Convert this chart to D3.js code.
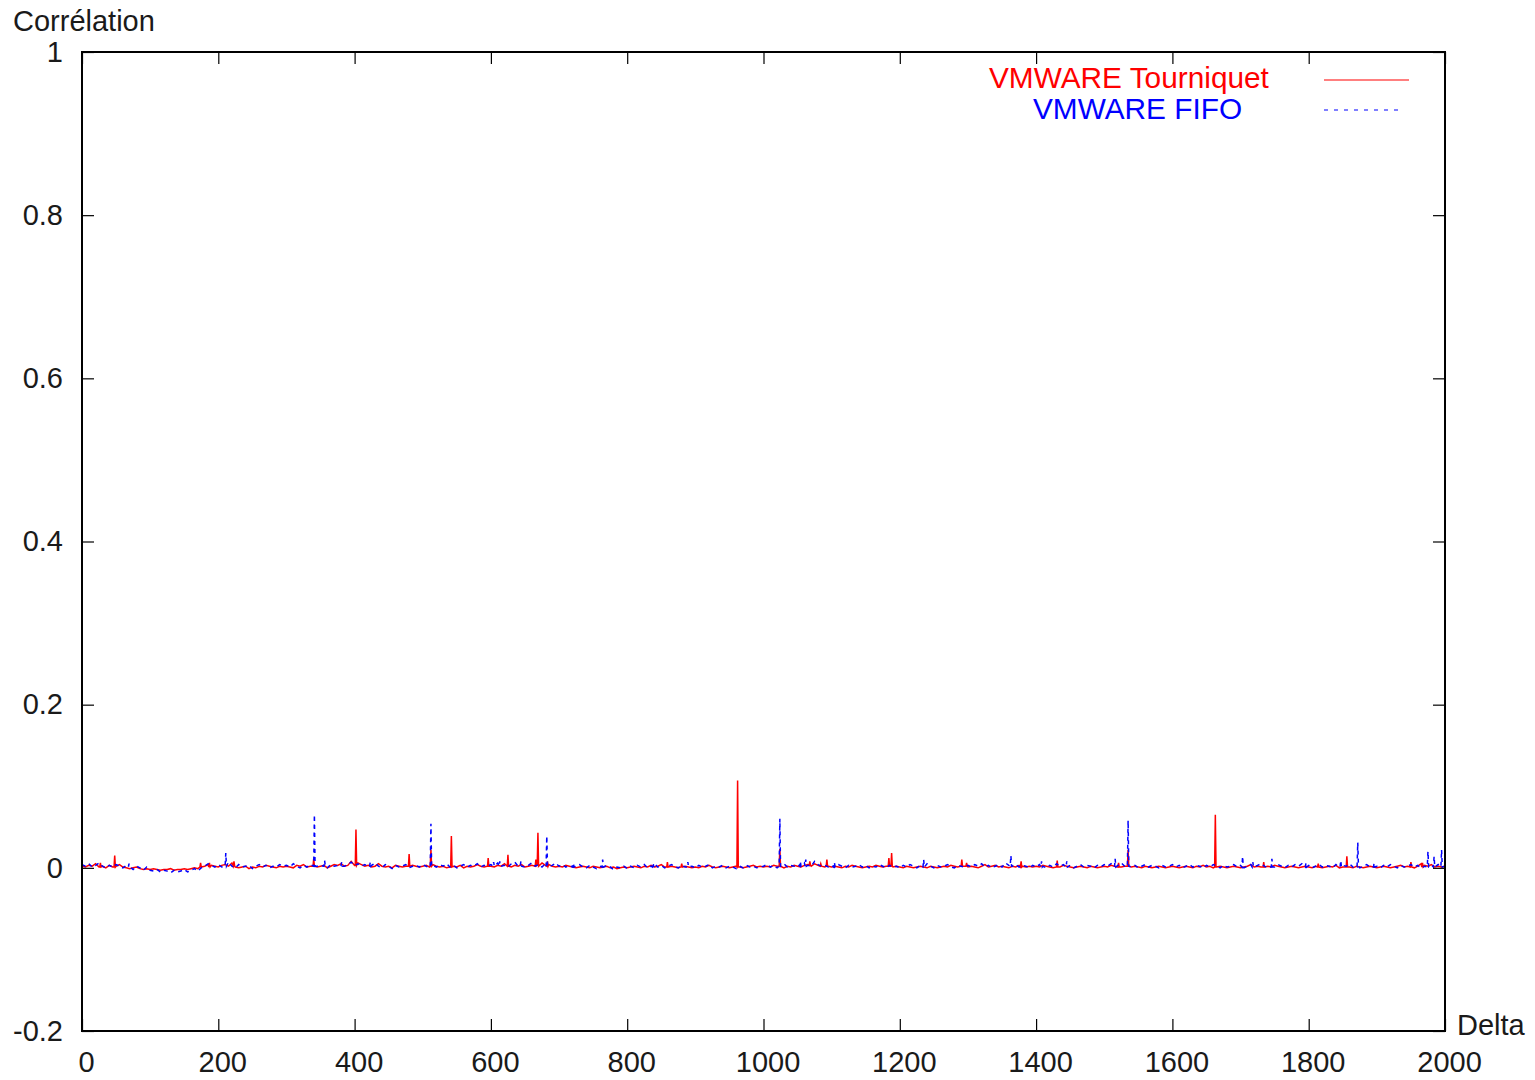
<!DOCTYPE html>
<html>
<head>
<meta charset="utf-8">
<title>Corrélation — VMWARE</title>
<script src="https://cdn.jsdelivr.net/npm/d3@7"></script>
<style>
  html, body { margin: 0; padding: 0; background: #fff; }
  svg { display: block; }
  text { font-family: "Liberation Sans", Arial, Helvetica, sans-serif; fill: #1a1a1a; }
</style>
</head>
<body>
<script>
// ---- data -------------------------------------------------------------
const xTicks = [0, 200, 400, 600, 800, 1000, 1200, 1400, 1600, 1800, 2000];
const yTicks = [-0.2, 0, 0.2, 0.4, 0.6, 0.8, 1];
const seriesNames = ["VMWARE Tourniquet", "VMWARE FIFO"];
const sampleStep = 5; // baseline samples every 5 units of Delta

// Tourniquet baseline, Delta = 0, 5, 10, ... 2000
const tourniquetBase = [
  .002,.001,.003,.002,.005,.001,.002,.000,.003,.001,.002,.004,.001,.000,-.001,.000,.001,-.001,-.002,-.001,
  -.002,-.001,-.002,-.003,-.002,-.002,-.001,-.003,-.002,-.002,-.001,-.002,-.001,.000,-.001,.001,.002,.004,.003,.002,
  .001,.003,.004,.002,.006,.001,.000,.001,.002,-.001,.001,.000,.002,.001,.003,.002,.001,.000,.002,.001,
  .002,.001,.000,.003,.002,.004,.001,.002,.003,.001,.002,.003,.000,.002,.004,.003,.005,.002,.003,.008,
  .003,.006,.004,.002,.003,.001,.002,.005,.002,.001,.002,.000,.003,.002,.001,.002,.001,.003,.002,.001,
  .002,.003,.001,.004,.002,.001,.002,.000,.001,.002,.001,.003,.000,.002,.001,.002,.004,.002,.001,.003,
  .002,.001,.003,.002,.005,.002,.001,.003,.002,.004,.001,.002,.003,.001,.002,.006,.003,.004,.002,.001,
  .002,.001,.003,.002,.001,.000,.001,.002,.001,.000,.002,.001,.000,.001,.002,.000,.001,-.001,.000,.001,
  .000,.001,.002,.001,.000,.002,.001,.003,.001,.002,.004,.001,.000,.002,.001,.000,.001,.002,.001,.000,
  .001,.000,.002,.001,.003,.001,.000,.001,.002,.001,.000,.001,.002,.001,.000,.001,.002,.003,.001,.002,
  .001,.002,.001,.003,.002,.001,.000,.002,.001,.003,.002,.001,.003,.004,.002,.005,.003,.002,.001,.002,
  .001,.002,.001,.000,.002,.001,.003,.002,.001,.000,.001,.002,.001,.003,.002,.001,.002,.003,.001,.002,
  .001,.000,.002,.001,.000,.001,.002,.001,.000,.002,.001,.000,.001,.002,.001,.003,.002,.001,.004,.002,
  .001,.002,.001,.000,.002,.004,.001,.002,.003,.001,.002,.001,.000,.002,.001,.003,.002,.001,.002,.001,
  .002,.001,.003,.002,.001,.000,.002,.001,.003,.002,.001,.000,.001,.002,.001,.000,.002,.001,.000,.001,
  .002,.001,.003,.002,.004,.001,.002,.003,.001,.002,.001,.000,.002,.001,.000,.001,.002,.001,.000,.001,
  .002,.001,.000,.001,.002,.001,.000,.002,.001,.003,.001,.002,.000,.001,.002,.001,.000,.001,.002,.001,
  .000,.001,.002,.004,.001,.002,.001,.000,.002,.001,.003,.002,.001,.000,.001,.002,.001,.000,.001,.002,
  .001,.000,.002,.001,.000,.001,.002,.001,.003,.000,.001,.002,.001,.000,.002,.001,.000,.001,.002,.001,
  .000,.001,.002,.001,.000,.001,.002,.003,.001,.002,.001,.000,.002,.005,.003,.002,.004,.001,.002,.001,
  .002
];

// Tourniquet peaks: [Delta, correlation]
const tourniquetPeaks = [
  [26,.001],[27,.006],[28,.001],
  [47,.001],[48,.015],[49,.001],
  [173,.001],[174,.006],[175,.001],
  [186,.001],[187,.006],[188,.001],
  [222,.002],[223,.008],[224,.002],
  [339,.002],[340,.011],[341,.002],
  [401,.003],[402,.047],[403,.003],
  [479,.002],[480,.017],[481,.002],
  [511,.002],[512,.022],[513,.002],
  [541,.001],[542,.039],[543,.001],
  [595,.002],[596,.012],[597,.002],
  [624,.002],[625,.016],[626,.002],
  [665,.002],[666,.010],[667,.003],[668,.004],[669,.043],[670,.002],
  [682,.002],[683,.008],[684,.002],
  [858,.001],[859,.007],[860,.001],
  [879,.001],[880,.005],[881,.001],
  [961,.001],[962,.107],[963,.001],
  [1023,.002],[1024,.023],[1025,.002],
  [1067,.003],[1068,.008],[1069,.003],
  [1083,.002],[1084,.005],[1085,.002],
  [1092,.002],[1093,.010],[1094,.002],
  [1183,.002],[1184,.012],[1185,.002],[1187,.002],[1188,.018],[1189,.002],
  [1290,.002],[1291,.010],[1292,.002],
  [1297,.002],[1298,.006],[1299,.002],
  [1377,.001],[1378,.008],[1379,.001],
  [1430,.001],[1431,.009],[1432,.001],
  [1520,.001],[1521,.006],[1522,.001],
  [1534,.002],[1535,.022],[1536,.002],
  [1662,.001],[1663,.065],[1664,.001],
  [1733,.001],[1734,.007],[1735,.001],
  [1813,.001],[1814,.005],[1815,.001],
  [1855,.001],[1856,.014],[1857,.001],
  [1949,.001],[1950,.007],[1951,.001],
  [1966,.001],[1967,.006],[1968,.001]
];

// FIFO baseline, Delta = 0, 5, 10, ... 2000
const fifoBase = [
  .004,.002,.005,.001,.003,.006,.002,.000,.003,.001,.004,.002,.000,.003,.001,-.002,.002,.000,-.003,.001,
  -.003,-.004,-.002,-.005,-.003,-.004,-.006,-.003,-.005,-.004,-.002,-.005,-.003,-.001,-.004,.000,.002,.005,.003,.001,
  .004,.001,.003,.007,.002,.000,.004,.001,.002,.003,-.001,.002,.004,.001,.003,.000,.002,.001,.004,.002,
  .003,.001,.005,.002,.000,.003,.001,.004,.006,.002,.003,.005,.000,.004,.002,.003,.006,.002,.004,.007,
  .003,.005,.002,.004,.001,.003,.006,.002,.000,.004,.002,-.001,.003,.001,.002,.004,.000,.002,.003,.001,
  .004,.002,.000,.003,.001,.004,.002,.005,.001,.003,.000,.002,.004,.001,.003,.002,.005,.001,.003,.002,
  .004,.001,.006,.002,.003,.001,.005,.007,.002,.004,.001,.003,.006,.002,.004,.001,.005,.002,.003,.006,
  .002,.004,.001,.003,.000,.002,.004,.001,.000,.003,.001,-.001,.002,.000,.003,.001,-.002,.001,.000,.002,
  -.001,.002,.000,.003,.001,.004,.000,.002,.005,.001,.003,.000,.002,.004,.001,.000,.003,.001,.004,.002,
  .000,.003,.001,.002,.004,.000,.002,.001,.003,.000,.002,.001,-.001,.002,.000,.003,.001,.002,.000,.001,
  .002,.004,.001,.003,.000,.002,.005,.001,.003,.002,.004,.001,.006,.003,.002,.008,.004,.002,.003,.001,
  .003,.001,.004,.002,.000,.003,.001,.002,.004,.001,.003,.000,.002,.001,.004,.002,.000,.003,.001,.002,
  .000,.003,.001,.004,.002,.000,.003,.001,.005,.002,.000,.003,.001,.002,.004,.001,.000,.003,.002,.001,
  .003,.001,.004,.002,.005,.001,.003,.000,.002,.004,.001,.006,.003,.002,.004,.001,.003,.002,.000,.003,
  .001,.004,.002,.000,.003,.001,.005,.002,.004,.001,.003,.000,.002,.004,.001,.003,.002,.000,.003,.001,
  .004,.002,.005,.001,.003,.006,.002,.004,.001,.003,.000,.002,.004,.001,.003,.002,.000,.003,.001,.002,
  .004,.001,.003,.000,.002,.004,.001,.003,.002,.000,.003,.001,.004,.002,.000,.003,.001,.002,.004,.001,
  .003,.000,.002,.004,.001,.003,.005,.002,.000,.003,.001,.004,.002,.000,.003,.001,.004,.002,.005,.001,
  .003,.000,.002,.004,.001,.003,.002,.000,.004,.001,.003,.002,.005,.001,.003,.000,.002,.004,.001,.003,
  .002,.000,.003,.001,.004,.002,.000,.003,.001,.002,.004,.001,.003,.000,.002,.005,.003,-.001,.004,-.003,
  .002
];

// FIFO peaks: [Delta, correlation]
const fifoPeaks = [
  [68,.001],[69,.005],[70,.001],
  [210,.002],[211,.018],[212,.002],
  [340,.002],[341,.065],[342,.002],
  [355,.002],[356,.009],[357,.002],
  [380,.002],[381,.007],[382,.002],
  [422,.002],[423,.007],[424,.002],
  [511,.002],[512,.054],[513,.002],
  [603,.002],[604,.007],[605,.002],
  [612,.002],[613,.008],[614,.002],
  [643,.002],[644,.008],[645,.002],
  [681,.002],[682,.039],[683,.002],
  [720,.001],[721,.006],[722,.001],
  [763,.001],[764,.010],[765,.001],
  [837,.001],[838,.006],[839,.001],
  [888,.001],[889,.007],[890,.001],
  [1023,.002],[1024,.060],[1025,.002],
  [1053,.002],[1054,.008],[1055,.002],
  [1061,.002],[1062,.010],[1063,.002],
  [1103,.001],[1104,.007],[1105,.001],
  [1234,.001],[1235,.010],[1236,.001],
  [1362,.002],[1363,.015],[1364,.002],
  [1407,.001],[1408,.008],[1409,.001],
  [1444,.001],[1445,.008],[1446,.001],
  [1515,.001],[1516,.011],[1517,.001],
  [1534,.002],[1535,.058],[1536,.002],
  [1702,.001],[1703,.014],[1704,.001],
  [1717,.001],[1718,.007],[1719,.001],
  [1745,.001],[1746,.011],[1747,.001],
  [1795,.001],[1796,.006],[1797,.001],
  [1846,.001],[1847,.009],[1848,.001],
  [1871,.002],[1872,.031],[1873,.002],
  [1895,.001],[1896,.006],[1897,.001],
  [1974,.001],[1975,.020],[1976,.001],
  [1983,.001],[1984,.014],[1985,.001],
  [1994,.001],[1995,.022],[1996,.001]
];

// ---- layout -----------------------------------------------------------
const W = 1535, H = 1080;
const plot = { left: 82, right: 1445, top: 52, bottom: 1031 };
const colors = ["#ff0000", "#0000ff"];
const FONT = 29;

// merge the sampled baseline with the listed peaks, ordered by Delta
function buildSeries(base, peaks) {
  const map = new Map();
  base.forEach((v, i) => map.set(i * sampleStep, v));
  peaks.forEach(([d, v]) => map.set(d, v));
  return Array.from(map, ([d, v]) => ({ d, v })).sort((a, b) => a.d - b.d);
}
const series = [buildSeries(tourniquetBase, tourniquetPeaks), buildSeries(fifoBase, fifoPeaks)];

const x = d3.scaleLinear().domain([0, 2000]).range([plot.left, plot.right]);
const y = d3.scaleLinear().domain([-0.2, 1]).range([plot.bottom, plot.top]);

const svg = d3.select("body").append("svg").attr("width", W).attr("height", H);

// data lines (clipped to the frame)
svg.append("clipPath").attr("id", "plotClip").append("rect")
  .attr("x", plot.left).attr("y", plot.top)
  .attr("width", plot.right - plot.left).attr("height", plot.bottom - plot.top);

const line = d3.line().x(p => x(p.d)).y(p => y(p.v));
const lines = svg.append("g").attr("clip-path", "url(#plotClip)");
lines.append("path").datum(series[0])
  .attr("d", line).attr("fill", "none").attr("stroke", colors[0])
  .attr("stroke-width", 1.5).attr("stroke-linejoin", "miter");
lines.append("path").datum(series[1])
  .attr("d", line).attr("fill", "none").attr("stroke", colors[1])
  .attr("stroke-width", 1.5).attr("stroke-dasharray", "4,4");

// axes: ticks point inward on all four sides; plain hyphen for negatives
const fmtY = d => String(+d.toFixed(1));
function styleAxis(g) {
  g.select(".domain").remove();
  g.selectAll(".tick line").attr("stroke", "#000").attr("stroke-width", 1.2);
  g.selectAll(".tick text").attr("font-size", FONT).attr("fill", "#1a1a1a")
    .attr("font-family", "'Liberation Sans', Arial, sans-serif");
}
svg.append("g").attr("transform", `translate(0,${plot.bottom})`)
  .call(d3.axisBottom(x).tickValues(xTicks).tickFormat(d => String(d)).tickSizeInner(-12).tickSizeOuter(0).tickPadding(20))
  .call(styleAxis)
  .call(g => g.selectAll(".tick text").attr("x", 4));
svg.append("g").attr("transform", `translate(0,${plot.top})`)
  .call(d3.axisTop(x).tickValues(xTicks).tickFormat("").tickSizeInner(-12).tickSizeOuter(0))
  .call(styleAxis);
svg.append("g").attr("transform", `translate(${plot.left},0)`)
  .call(d3.axisLeft(y).tickValues(yTicks).tickFormat(fmtY).tickSizeInner(-12).tickSizeOuter(0).tickPadding(19))
  .call(styleAxis);
svg.append("g").attr("transform", `translate(${plot.right},0)`)
  .call(d3.axisRight(y).tickValues(yTicks).tickFormat("").tickSizeInner(-12).tickSizeOuter(0))
  .call(styleAxis);

// frame
svg.append("rect")
  .attr("x", plot.left).attr("y", plot.top)
  .attr("width", plot.right - plot.left).attr("height", plot.bottom - plot.top)
  .attr("fill", "none").attr("stroke", "#000").attr("stroke-width", 2);

// axis titles
svg.append("text").attr("x", 13).attr("y", 31).attr("font-size", FONT).text("Corrélation");
svg.append("text").attr("x", 1457).attr("y", 1035).attr("font-size", FONT).text("Delta");

// legend
const legend = [
  { name: seriesNames[0], color: colors[0], dash: null, tx: 989, ty: 88, ly: 80, lx2: 1409 },
  { name: seriesNames[1], color: colors[1], dash: "4,6", tx: 1033, ty: 119, ly: 110, lx2: 1404 }
];
legend.forEach(l => {
  svg.append("text").attr("x", l.tx).attr("y", l.ty).attr("font-size", 29.8)
    .style("fill", l.color).text(l.name);
  svg.append("line").attr("x1", 1324).attr("x2", l.lx2).attr("y1", l.ly).attr("y2", l.ly)
    .attr("stroke", l.color).attr("stroke-width", 1.2)
    .attr("stroke-dasharray", l.dash);
});
</script>
</body>
</html>
